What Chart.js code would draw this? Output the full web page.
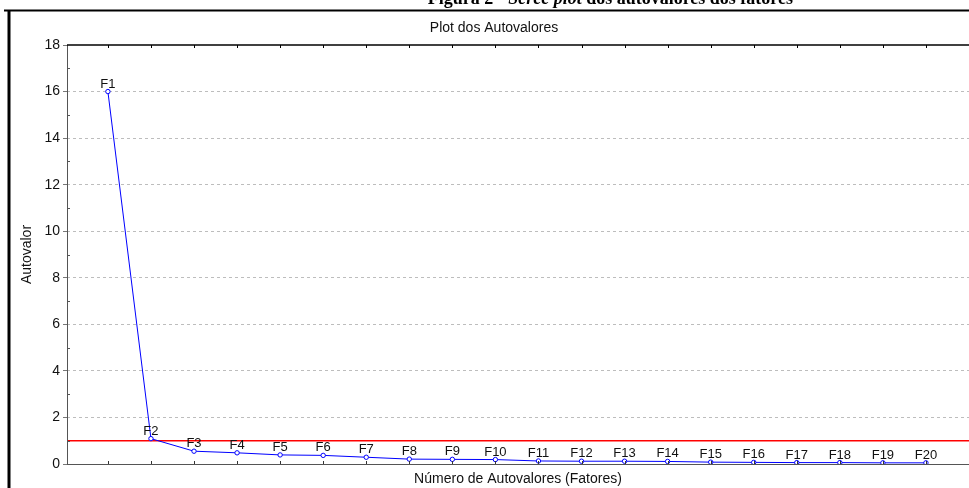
<!DOCTYPE html>
<html>
<head>
<meta charset="utf-8">
<script src="https://cdn.jsdelivr.net/npm/chart.js@4.4.1/dist/chart.umd.min.js"></script>
<style>
  html, body { margin: 0; padding: 0; background: #fff; }
  #wrap { width: 969px; height: 488px; position: relative; }
</style>
</head>
<body>
<div id="wrap"><canvas id="c" width="969" height="488"></canvas></div>
<script>
// Scree plot: eigenvalue of each factor
const factorLabels = ['F1','F2','F3','F4','F5','F6','F7','F8','F9','F10',
                      'F11','F12','F13','F14','F15','F16','F17','F18','F19','F20'];
const factorNumbers = [1,2,3,4,5,6,7,8,9,10,11,12,13,14,15,16,17,18,19,20];
const eigenvalues = [16.0, 1.09, 0.55, 0.48, 0.39, 0.37, 0.29, 0.21, 0.20, 0.19,
                     0.13, 0.12, 0.12, 0.11, 0.08, 0.07, 0.06, 0.06, 0.05, 0.05];
// Kaiser criterion reference line
const kaiserValue = 1;
const xRange = [0.05, 21];
const yRange = [0, 18];
const yTickStep = 2;

const pageTitle = ['Figura 2 - ', 'Scree plot', ' dos autovalores dos fatores'];
const chartTitle = 'Plot dos Autovalores';
const xTitle = 'Número de Autovalores (Fatores)';
const yTitle = 'Autovalor';

const FONT = '"Liberation Sans", Arial, sans-serif';
const SERIF = '"Liberation Serif", "Times New Roman", serif';

const decorations = {
  id: 'decorations',
  beforeDraw(chart) {
    const ctx = chart.ctx;
    ctx.save();
    ctx.fillStyle = '#fff';
    ctx.fillRect(0, 0, chart.width, chart.height);
    ctx.restore();
  },
  afterDraw(chart) {
    const ctx = chart.ctx;
    const area = chart.chartArea;
    const xs = chart.scales.x, ys = chart.scales.y;
    ctx.save();

    // document caption, clipped by the top edge
    ctx.fillStyle = '#000';
    ctx.textBaseline = 'alphabetic';
    ctx.textAlign = 'left';
    const fonts = ['bold 18px ' + SERIF, 'bold italic 18px ' + SERIF, 'bold 18px ' + SERIF];
    const widths = pageTitle.map((s, i) => { ctx.font = fonts[i]; return ctx.measureText(s).width; });
    let tx = 793 - widths.reduce((a, b) => a + b, 0);
    pageTitle.forEach((s, i) => {
      ctx.font = fonts[i];
      ctx.fillText(s, tx, 4);
      tx += widths[i];
    });

    // outer frame
    ctx.strokeStyle = '#000';
    ctx.lineWidth = 2;
    ctx.beginPath();
    ctx.moveTo(4, 10.5); ctx.lineTo(chart.width, 10.5);
    ctx.stroke();
    ctx.lineWidth = 3;
    ctx.beginPath();
    ctx.moveTo(9, 10); ctx.lineTo(9, chart.height);
    ctx.stroke();

    // plot title
    ctx.fillStyle = '#111';
    ctx.font = '14px ' + FONT;
    ctx.textAlign = 'center';
    ctx.textBaseline = 'middle';
    ctx.fillText(chartTitle, 494, 28);

    // axis titles
    ctx.fillText(xTitle, (area.left + area.right) / 2, 479);
    ctx.save();
    ctx.translate(27, (area.top + area.bottom) / 2);
    ctx.rotate(-Math.PI / 2);
    ctx.fillText(yTitle, 0, 0);
    ctx.restore();

    // axis lines
    ctx.lineWidth = 1;
    ctx.strokeStyle = '#555';
    ctx.beginPath();
    ctx.moveTo(area.left + 0.5, area.top); ctx.lineTo(area.left + 0.5, area.bottom);
    ctx.moveTo(area.left, area.bottom + 0.5); ctx.lineTo(area.right, area.bottom + 0.5);
    ctx.stroke();
    ctx.strokeStyle = '#000';
    ctx.lineWidth = 1.5;
    ctx.beginPath();
    ctx.moveTo(area.left, area.top); ctx.lineTo(area.right, area.top);
    ctx.stroke();

    // category ticks, pointing into the plot
    ctx.lineWidth = 1;
    factorNumbers.forEach(n => {
      const px = Math.round(xs.getPixelForValue(n)) + 0.5;
      ctx.strokeStyle = '#333';
      ctx.beginPath();
      ctx.moveTo(px, area.bottom); ctx.lineTo(px, area.bottom - 3);
      ctx.stroke();
      ctx.strokeStyle = '#000';
      ctx.beginPath();
      ctx.moveTo(px, area.top); ctx.lineTo(px, area.top + 3);
      ctx.stroke();
    });
    // minor y ticks
    ctx.strokeStyle = '#555';
    for (let v = yRange[0] + yTickStep / 2; v < yRange[1]; v += yTickStep) {
      const py = Math.round(ys.getPixelForValue(v)) + 0.5;
      ctx.beginPath();
      ctx.moveTo(area.left, py); ctx.lineTo(area.left + 3, py);
      ctx.stroke();
    }

    // factor labels above each point
    const meta = chart.getDatasetMeta(0);
    ctx.fillStyle = '#111';
    ctx.font = '13px ' + FONT;
    ctx.textAlign = 'center';
    ctx.textBaseline = 'alphabetic';
    meta.data.forEach((pt, i) => {
      ctx.fillText(factorLabels[i], pt.x, pt.y - 4);
    });
    ctx.restore();
  }
};

new Chart(document.getElementById('c'), {
  type: 'line',
  data: {
    datasets: [
      {
        data: factorNumbers.map((n, i) => ({ x: n, y: eigenvalues[i] })),
        borderColor: '#0000ff',
        borderWidth: 1,
        pointRadius: 2.2,
        pointBorderWidth: 1,
        pointBackgroundColor: '#ffffff',
        pointBorderColor: '#0000ff',
        tension: 0,
        order: 1
      },
      {
        data: [{ x: 0, y: kaiserValue }, { x: xRange[1], y: kaiserValue }],
        borderColor: '#ff0000',
        borderWidth: 1.5,
        pointRadius: 0,
        order: 2
      }
    ]
  },
  options: {
    responsive: false,
    animation: false,
    events: [],
    layout: { autoPadding: false, padding: { top: 45, bottom: 24, left: 0, right: 0 } },
    plugins: { legend: { display: false }, tooltip: { enabled: false }, title: { display: false } },
    scales: {
      x: {
        type: 'linear',
        min: xRange[0], max: xRange[1],
        display: false
      },
      y: {
        min: yRange[0], max: yRange[1],
        afterFit(scale) { scale.width = 67; },
        ticks: {
          stepSize: yTickStep,
          padding: 3,
          color: '#111',
          font: { family: FONT, size: 14 }
        },
        grid: {
          color: ctx => (ctx.tick && (ctx.tick.value === yRange[0] || ctx.tick.value === yRange[1])) ? 'rgba(0,0,0,0)' : '#bdbdbd',
          tickColor: '#777',
          tickLength: 4,
          lineWidth: 1
        },
        border: { display: false, dash: [3, 3] }
      }
    }
  },
  plugins: [decorations]
});
</script>
</body>
</html>
